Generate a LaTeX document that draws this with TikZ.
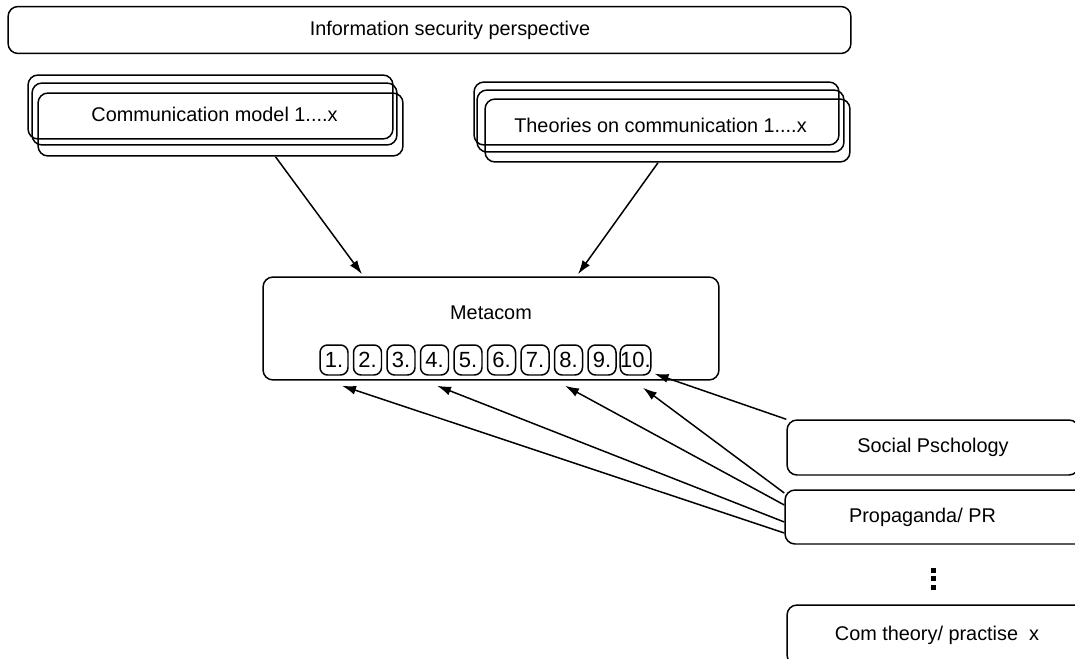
\documentclass[tikz,border=0pt]{standalone}
\usepackage{fontspec}
\setmainfont{Liberation Sans}
\usetikzlibrary{arrows.meta}

\begin{document}
\begin{tikzpicture}[x=0.02cm,y=-0.02cm,line width=0.85pt,
  >={Latex[length=2.8mm,width=1.8mm]},
  lbl/.style={font=\fontsize{11.3}{13}\selectfont},
  box/.style={draw,rounded corners=0.2cm,lbl},
  numbox/.style={draw,rounded corners=0.15cm,minimum width=0.56cm,minimum height=0.6cm,inner sep=0pt,font=\fontsize{12.5}{14}\selectfont}]
\useasboundingbox (0,0) rectangle (1075,659);

%Perspective
\node[box,minimum width=16.86cm,minimum height=0.94cm,
  label={[xshift=0.41cm,lbl]center:Information security perspective}] (persp) at (429.5,30) {};

%Models
\node[box,minimum width=7.3cm,minimum height=1.28cm] (commA) at (210.5,107) {};
\node[box,minimum width=7.3cm,minimum height=1.24cm] (commB) at (214.5,114) {Communication model 1....x};
\node[box,minimum width=7.3cm,minimum height=1.26cm] (commC) at (220.5,124.5) {};

%Theories
\node[box,minimum width=7.3cm,minimum height=1.26cm] (theoA) at (656.5,113.5) {};
\node[box,minimum width=7.34cm,minimum height=1.24cm,
  label={[yshift=-0.08cm,lbl]center:Theories on communication 1....x}] (theoB) at (660.5,121) {};
\node[box,minimum width=7.3cm,minimum height=1.26cm] (theoC) at (667.5,130.5) {};

%Metacom
\node[box,minimum width=9.12cm,minimum height=2.06cm,
  label={[yshift=0.31cm,lbl]center:Metacom}] (meta) at (491,328.5) {};
\foreach \i in {1,...,10}
  \node[numbox] (b\i) at ({334+33.5*(\i-1)},360) {\i.};

%Sources
\node[box,minimum width=5.84cm,minimum height=1.1cm] (social) at (933,447.5) {Social Pschology};
\node[box,minimum width=6.1cm,minimum height=1.08cm,
  label={[xshift=-0.3cm,lbl]center:Propaganda/ PR}] (prop) at (937.5,517) {};
\node[box,minimum width=6cm,minimum height=1.2cm] (comx) at (937,635) {Com theory/ practise~ x};

%Dots
\foreach \d in {570,578.5,587}
  \fill (931,\d-2.5) rectangle (936,\d+2.5);

%Arrows
\draw[->] ([xshift=1.1cm]commC.south) -- ([xshift=-2.58cm,yshift=0.04cm]meta.north);
\draw[->] ([xshift=-0.19cm]theoC.south) -- ([xshift=1.74cm,yshift=0.04cm]meta.north);
\draw[->] (social.north west) -- ([shift={(0.06cm,0.04cm)}]b10.south east);
\draw[->] ([yshift=0.48cm]prop.west) -- ([shift={(0.15cm,-0.24cm)}]b10.south);
\draw[->] ([yshift=0.24cm]prop.west) -- ([shift={(-0.07cm,-0.2cm)}]b8.south);
\draw[->] ([yshift=-0.1cm]prop.west) -- ([shift={(0.05cm,-0.2cm)}]b4.south);
\draw[->] ([yshift=-0.32cm]prop.west) -- ([shift={(0.16cm,-0.2cm)}]b1.south);
\end{tikzpicture}
\end{document}
